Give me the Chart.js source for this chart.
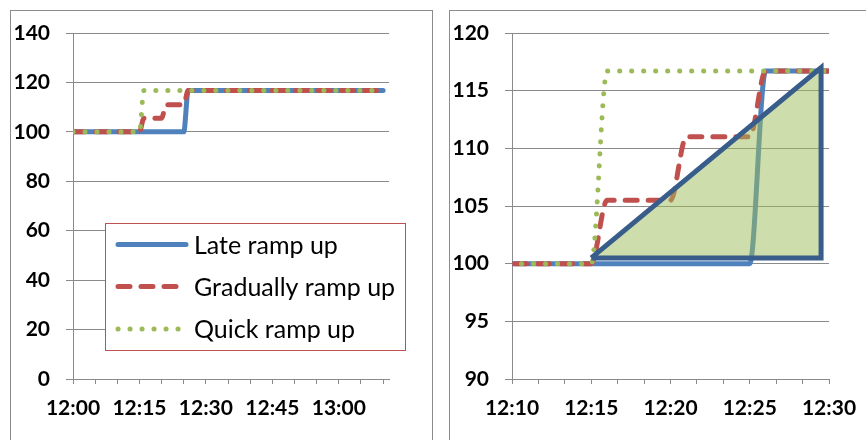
<!DOCTYPE html>
<html>
<head>
<meta charset="utf-8">
<title>Ramp up</title>
<script src="https://cdn.jsdelivr.net/npm/chart.js"></script>
<style>
  html, body { margin: 0; padding: 0; background: #fff; overflow: hidden; }
  body { width: 866px; height: 440px; position: relative; }
  .box { position: absolute; top: 10px; border: 1px solid #8c8c8c; border-bottom: none; }
  #leftBox { left: 10px; width: 421px; height: 440px; }
  #rightBox { left: 449px; width: 430px; height: 440px; border-right: none; }
  canvas { display: block; }
</style>
</head>
<body>
<div class="box" id="leftBox"><canvas id="leftChart" width="421" height="429"></canvas></div>
<div class="box" id="rightBox"><canvas id="rightChart" width="416" height="429"></canvas></div>
<script>
// series names
const seriesNames = ['Late ramp up', 'Gradually ramp up', 'Quick ramp up'];

// each series: the times where the line changes, and its value there
const lateTimes = ['12:00', '12:25', '12:26', '13:10'];
const lateValues = [100, 100, 116.7, 116.7];
const gradualTimes = ['12:00', '12:15', '12:16', '12:20', '12:21', '12:25', '12:26', '13:10'];
const gradualValues = [100, 100, 105.5, 105.5, 111, 111, 116.7, 116.7];
const quickTimes = ['12:00', '12:15', '12:16', '13:10'];
const quickValues = [100, 100, 116.7, 116.7];

// triangle drawn on the zoomed chart
const triangleTimes = ['12:15', '12:29:30', '12:29:30', '12:15'];
const triangleValues = [100.5, 117, 100.5, 100.5];

// axes
const leftXLabels = ['12:00', '12:15', '12:30', '12:45', '13:00'];
const leftXEnd = '13:11:20';
const leftYTicks = [0, 20, 40, 60, 80, 100, 120, 140];
const rightXLabels = ['12:10', '12:15', '12:20', '12:25', '12:30'];
const rightXEnd = '12:30';
const rightYTicks = [90, 95, 100, 105, 110, 115, 120];

// minutes after 12:00
function toMin(t) {
  const p = t.split(':').map(Number);
  return (p[0] - 12) * 60 + p[1] + (p[2] || 0) / 60;
}
function fmt(m) {
  const h = 12 + Math.floor(m / 60);
  const mm = Math.round(m % 60);
  return h + ':' + (mm < 10 ? '0' : '') + mm;
}
function points(times, values) {
  return times.map((t, i) => ({ x: toMin(t), y: values[i] }));
}

const gridGrey = '#8a8a8a';
const tickFont = { family: 'Lato', weight: 'bold', size: 21 };

const lineStyles = [
  { borderColor: '#4F81BD', borderWidth: 5, borderDash: [], order: 3 },
  { borderColor: '#C0504D', borderWidth: 5, borderDash: [12, 11], order: 2 },
  { borderColor: '#9BBB59', borderWidth: 5, borderDash: [0.1, 11.9], order: 1 }
];

function seriesDatasets() {
  const data = [points(lateTimes, lateValues), points(gradualTimes, gradualValues), points(quickTimes, quickValues)];
  return data.map((d, i) => Object.assign({
    label: seriesNames[i],
    data: d,
    showLine: true,
    pointRadius: 0,
    fill: false,
    cubicInterpolationMode: 'monotone',
    borderCapStyle: 'round',
    borderJoinStyle: 'round'
  }, lineStyles[i]));
}

function makeScales(xLabels, xEnd, yTicks) {
  const majors = xLabels.map(toMin);
  const step = (majors[1] - majors[0]) / 3;
  const xMax = toMin(xEnd);
  const xTicks = [];
  for (let v = majors[0]; v <= xMax + 0.001; v += step) xTicks.push(v);
  const isMajor = v => majors.some(m => Math.abs(m - v) < 0.01);
  return {
    x: {
      type: 'linear',
      min: majors[0],
      max: xMax,
      afterBuildTicks: s => { s.ticks = xTicks.map(v => ({ value: v })); },
      afterFit: s => { s.height = 61; s.paddingLeft = 0; s.paddingRight = 0; },
      ticks: {
        autoSkip: false, maxRotation: 0, padding: 12, color: '#000', font: tickFont,
        callback: v => isMajor(v) ? fmt(v) : ''
      },
      grid: { drawOnChartArea: false, drawTicks: true, tickLength: 5, color: gridGrey, lineWidth: 1 },
      border: { display: true, color: gridGrey, width: 1 }
    },
    y: {
      min: yTicks[0],
      max: yTicks[yTicks.length - 1],
      afterBuildTicks: s => { s.ticks = yTicks.map(v => ({ value: v })); },
      afterFit: s => { s.width = 62; s.paddingTop = 0; s.paddingBottom = 0; },
      ticks: { padding: 16, color: '#000', font: tickFont },
      grid: { color: gridGrey, lineWidth: 1, tickLength: 7 },
      border: { display: true, color: gridGrey, width: 1 }
    }
  };
}

// legend in a red box, drawn inside the left plot
const boxLegend = {
  id: 'boxLegend',
  afterDraw(chart) {
    const ctx = chart.ctx;
    ctx.save();
    ctx.fillStyle = '#fff';
    ctx.fillRect(94.5, 212.5, 300, 127);
    ctx.strokeStyle = '#C0504D';
    ctx.lineWidth = 1;
    ctx.strokeRect(94.5, 212.5, 300, 127);
    const rows = [233.5, 275.5, 318];
    chart.data.datasets.forEach((ds, i) => {
      const y = rows[i];
      ctx.beginPath();
      ctx.setLineDash(ds.borderDash);
      ctx.lineCap = 'round';
      ctx.strokeStyle = ds.borderColor;
      ctx.lineWidth = ds.borderWidth;
      ctx.moveTo(107, y);
      ctx.lineTo(175, y);
      ctx.stroke();
      ctx.setLineDash([]);
      ctx.fillStyle = '#000';
      ctx.font = '25px Lato';
      ctx.textBaseline = 'middle';
      ctx.fillText(ds.label, 183, y + 1);
    });
    ctx.restore();
  }
};

function build() {
  new Chart(document.getElementById('leftChart'), {
    type: 'scatter',
    data: { datasets: seriesDatasets() },
    options: {
      responsive: false,
      animation: false,
      layout: { padding: { top: 22, right: 43, bottom: 0, left: 0 } },
      plugins: { legend: { display: false }, tooltip: { enabled: false } },
      scales: makeScales(leftXLabels, leftXEnd, leftYTicks)
    },
    plugins: [boxLegend]
  });

  const rightSets = seriesDatasets();
  rightSets.push({
    label: 'triangle',
    data: points(triangleTimes, triangleValues),
    showLine: true,
    pointRadius: 0,
    borderColor: '#385D8A',
    borderWidth: 5,
    borderJoinStyle: 'miter',
    backgroundColor: 'rgba(155, 187, 89, 0.5)',
    fill: 'shape',
    tension: 0,
    order: 0
  });
  new Chart(document.getElementById('rightChart'), {
    type: 'scatter',
    data: { datasets: rightSets },
    options: {
      responsive: false,
      animation: false,
      layout: { padding: { top: 22, right: 37, bottom: 0, left: 0 } },
      plugins: { legend: { display: false }, tooltip: { enabled: false } },
      scales: makeScales(rightXLabels, rightXEnd, rightYTicks)
    }
  });
}

if (document.fonts && document.fonts.load) {
  Promise.all([document.fonts.load('bold 21px Lato'), document.fonts.load('25px Lato')]).then(build, build);
} else {
  build();
}
</script>
</body>
</html>
